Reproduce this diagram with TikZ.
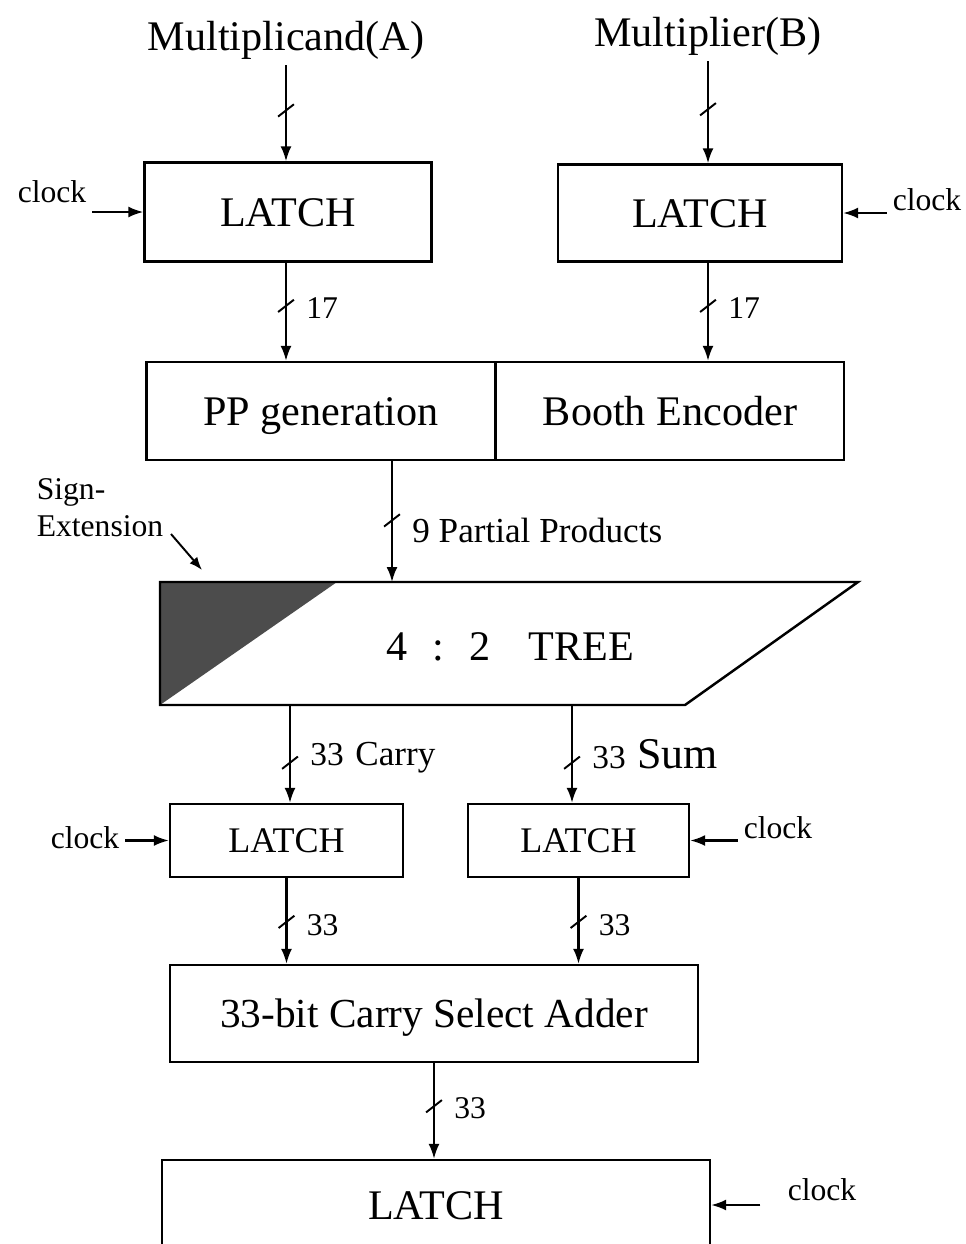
\documentclass[tikz,border=0pt]{standalone}
\usepackage{fontspec}
\setmainfont{Liberation Serif}
\usetikzlibrary{arrows.meta,positioning,decorations.markings}
\newcommand{\fsz}[1]{\fontsize{#1}{#1}\selectfont}
\tikzset{
  block/.style = {draw, line width=1.4pt, rectangle, inner sep=0pt, align=center},
  sig/.style   = {-{Latex[length=3mm,width=2.2mm]}, line width=1.2pt},
  bus/.style   = {postaction=decorate, decoration={markings,
                  mark=at position #1 with {\draw[-, line width=1.1pt] (3.5pt,-4.5pt) -- (-3.5pt,4.5pt);}}},
  bus/.default = 0.5,
  title/.style = {font=\fontsize{24}{28}\selectfont},
  big/.style   = {font=\fontsize{24}{28}\selectfont, text height=16pt, text depth=0pt},
  mid/.style   = {font=\fontsize{20.5}{24}\selectfont, text height=13.6pt, text depth=0pt},
  small/.style = {font=\fontsize{18}{21}\selectfont},
  lbl/.style   = {anchor=west, inner sep=2pt, xshift=9pt, font=\fontsize{18}{21}\selectfont},
}

\begin{document}
\begin{tikzpicture}[x=0.02cm, y=-0.02cm]
\useasboundingbox (0,0) rectangle (965,1244);
% ---- inputs and first latches ----
\node[title] (inA) at (286,40) {Multiplicand(A)};
\node[title] (inB) at (708,36) {Multiplier(B)};
\node[block, big, minimum width=5.74cm, minimum height=1.98cm] (latA) at (288,212) {LATCH};
\node[block, big, minimum width=5.68cm, minimum height=1.94cm] (latB) at (700,213) {LATCH};
\node[small] (ckA) at (52,192) {clock};
\node[small] (ckB) at (927,200) {clock};
\draw[sig] (ckA.east |- latA.west) -- (latA.west);
\draw[sig] (ckB.west |- latB.east) -- (latB.east);
\draw[sig, bus=0.47] (inA.south) -- (inA.south |- latA.north);
\draw[sig, bus=0.47] (inB.south) -- (inB.south |- latB.north);
% ---- booth stage ----
\node[block, big, minimum width=6.98cm, minimum height=1.96cm] (ppg) at (321,411) {PP generation};
\node[block, big, minimum width=6.96cm, minimum height=1.96cm] (booth) at (670,411) {Booth Encoder};
\draw[sig, bus=0.44] (latA.south -| inA.south) -- (inA.south |- ppg.north)
  node[lbl, pos=0.46] (wA) {17};
\draw[sig, bus=0.44] (latB.south -| inB.south) -- (inB.south |- booth.north)
  node[lbl, pos=0.46] (wB) {17};
% ---- 4:2 tree ----
\coordinate (tTL) at (160,582);
\coordinate (tSE) at (337,582);
\coordinate (tTR) at (858,582);
\coordinate (tBR) at (685,705);
\coordinate (tBL) at (160,705);
\coordinate (tIn) at (392,582);
\coordinate (tC) at (290,705);
\coordinate (tS) at (572,705);
\fill[black!70] (tTL) -- (tSE) -- (tBL) -- cycle;
\draw[line width=1.4pt] (tTL) -- (tTR) -- (tBR) -- (tBL) -- cycle;
\node[big] (tree) at (510,646) {4\hspace{0.6em}:\hspace{0.6em}2\hspace{0.9em}TREE};
\draw[sig, bus=0.49] (tIn |- ppg.south) -- (tIn)
  node[lbl, pos=0.57, font=\fontsize{20}{24}\selectfont] (wPP) {9 Partial Products};
\node[small, align=left] (sgn) at (100,508) {Sign-\\Extension};
\coordinate (seTail) at (171,534);
\coordinate (seTip) at (202,570);
\draw[-{Latex[length=2.6mm,width=2mm]}, line width=1.1pt] (seTail) -- (seTip);
% ---- carry / sum latches ----
\node[block, mid, minimum width=4.66cm, minimum height=1.46cm] (latC) at (286.5,840.5) {LATCH};
\node[block, mid, minimum width=4.42cm, minimum height=1.46cm] (latS) at (578.5,840.5) {LATCH};
\draw[sig, bus=0.59] (tC) -- (tC |- latC.north)
  node[lbl, pos=0.54, font=\fontsize{19}{22}\selectfont] (wC) {33\hspace{0.35em}{\fsz{20}Carry}};
\draw[sig, bus=0.59] (tS) -- (tS |- latS.north)
  node[lbl, pos=0.5, font=\fontsize{19}{22}\selectfont] (wS) {33\hspace{0.35em}{\fsz{25}Sum}};
\node[small] (ckC) at (85,838) {clock};
\node[small] (ckS) at (778,828) {clock};
\draw[sig] (ckC.east |- latC.west) -- (latC.west);
\draw[sig] (ckS.west |- latS.east) -- (latS.east);
% ---- final adder and output latch ----
\node[block, font=\fontsize{23.5}{27}\selectfont, text height=15.6pt, text depth=0pt,
      minimum width=10.56cm, minimum height=1.94cm] (add) at (434,1013.5) {33-bit Carry Select Adder};
\draw[sig, bus=0.51] (latC.south) -- (latC.south |- add.north) node[lbl, pos=0.55] (wC2) {33};
\draw[sig, bus=0.51] (latS.south) -- (latS.south |- add.north) node[lbl, pos=0.55] (wS2) {33};
\node[block, big, minimum width=10.96cm, minimum height=1.8cm] (bot) at (436,1205) {LATCH};
\draw[sig, bus=0.45] (add.south) -- (add.south |- bot.north) node[lbl, pos=0.47] (wO) {33};
\node[small] (ckO) at (822,1190) {clock};
\draw[sig] ([xshift=-12pt]ckO.west |- bot.east) -- (bot.east);
\end{tikzpicture}
\end{document}
